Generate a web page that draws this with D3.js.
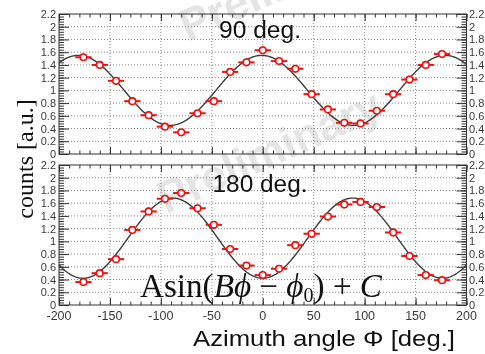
<!DOCTYPE html>
<html><head><meta charset="utf-8">
<script src="https://cdn.jsdelivr.net/npm/d3@7"></script>
<style>body{margin:0;background:#fff}svg{display:block}</style>
</head><body>
<svg id="c" width="485" height="354"></svg>
<script>
// ---- data ----
const phiCenters = [-176,-160,-144,-128,-112,-96,-80,-64,-48,-32,-16,0,16,32,48,64,80,96,112,128,144,160,176];
const binHalfWidth = 8;
const counts90 = [1.52,1.40,1.15,0.83,0.61,0.43,0.34,0.64,0.83,1.29,1.44,1.63,1.46,1.34,0.94,0.70,0.49,0.48,0.68,0.94,1.17,1.40,1.57];
const counts180 = [0.36,0.50,0.72,1.18,1.47,1.67,1.76,1.52,1.26,0.88,0.62,0.47,0.57,0.94,1.12,1.39,1.58,1.62,1.54,1.14,0.77,0.47,0.39];
const err90 = [0.06,0.06,0.06,0.06,0.05,0.05,0.05,0.05,0.06,0.06,0.06,0.06,0.06,0.06,0.06,0.05,0.05,0.05,0.05,0.06,0.06,0.06,0.06];
const err180 = [0.05,0.05,0.06,0.06,0.06,0.06,0.06,0.06,0.06,0.06,0.05,0.05,0.05,0.06,0.06,0.06,0.06,0.06,0.06,0.06,0.06,0.05,0.05];
// fit parameters [A, B, phi0(deg), C] for A*sin(B*phi - phi0) + C
const fit90 = [0.55, 2.0, -92, 1.0];
const fit180 = [0.63, 2.04, 90, 1.05];
const xTickValues = [-200,-150,-100,-50,0,50,100,150,200];
const xTickLabels = ["-200","-150","-100","-50","0","50","100","150","200"];
const yTickValues = [0,0.2,0.4,0.6,0.8,1,1.2,1.4,1.6,1.8,2,2.2];
const yTickLabels = ["0","0.2","0.4","0.6","0.8","1","1.2","1.4","1.6","1.8","2","2.2"];
const panelLabels = ["90 deg.","180 deg."];

// ---- drawing ----
const svg = d3.select("#c");
const x = d3.scaleLinear().domain([-200,200]).range([59,466.5]);
const panels = [
  {top:14, bottom:154, vals:counts90, errs:err90, fit:fit90, label:panelLabels[0], ly:38},
  {top:165, bottom:305, vals:counts180, errs:err180, fit:fit180, label:panelLabels[1], ly:192}
];
const red = "#f01010";

// watermarks (behind data)
const wm = svg.append("g").attr("fill","#c8c8c8").attr("opacity",0.5)
  .attr("font-family","Liberation Sans, Arial, sans-serif").attr("font-weight","bold").attr("font-size",44);
wm.append("text").attr("transform","translate(166,214) rotate(-24)").text("Preliminary");
wm.append("text").attr("transform","translate(188,42) rotate(-24)").text("Preliminary");

panels.forEach((p,pi)=>{
  const y = d3.scaleLinear().domain([0,2.2]).range([p.bottom,p.top]);
  const g = svg.append("g");
  // grid
  g.append("g").selectAll("line").data(xTickValues.slice(1,-1)).join("line")
    .attr("x1",d=>x(d)).attr("x2",d=>x(d)).attr("y1",p.top).attr("y2",p.bottom)
    .attr("stroke","#8a8a8a").attr("stroke-dasharray","1,2").attr("stroke-width",1);
  g.append("g").selectAll("line").data(yTickValues.slice(1,-1)).join("line")
    .attr("y1",d=>y(d)).attr("y2",d=>y(d)).attr("x1",x(-200)).attr("x2",x(200))
    .attr("stroke","#8a8a8a").attr("stroke-dasharray","1,2").attr("stroke-width",1);

  // axes with inward ticks
  const yMinor = d3.range(0,2.2001,0.04);
  const xMinor = d3.range(-200,200.001,10);
  const axL = d3.axisLeft(y).tickValues(yMinor).tickSize(-5).tickFormat("");
  const axLM = d3.axisLeft(y).tickValues(yTickValues).tickSize(-10).tickPadding(3).tickFormat((d,i)=>yTickLabels[i]);
  const axR = d3.axisRight(y).tickValues(yMinor).tickSize(-5).tickFormat("");
  const axRM = d3.axisRight(y).tickValues(yTickValues).tickSize(-10).tickPadding(2.5).tickFormat((d,i)=>yTickLabels[i]);
  const axB = d3.axisBottom(x).tickValues(xMinor).tickSize(-3.5).tickFormat("");
  const axBM = d3.axisBottom(x).tickValues(xTickValues).tickSize(-7).tickFormat("");
  const axT = d3.axisTop(x).tickValues(xMinor).tickSize(-3.5).tickFormat("");
  const axTM = d3.axisTop(x).tickValues(xTickValues).tickSize(-7).tickFormat("");
  const style = sel => {
    sel.selectAll("path").remove();
    sel.selectAll("line").attr("stroke","#333").attr("stroke-width",1);
    sel.selectAll("text").attr("fill","#3a3a3a").attr("font-family","Liberation Sans, Arial, sans-serif").attr("font-size",11);
  };
  g.append("g").attr("transform",`translate(${x(-200)},0)`).call(axL).call(style);
  g.append("g").attr("transform",`translate(${x(-200)},0)`).call(axLM).call(style);
  g.append("g").attr("transform",`translate(${x(200)},0)`).call(axR).call(style);
  g.append("g").attr("transform",`translate(${x(200)},0)`).call(axRM).call(style);
  g.append("g").attr("transform",`translate(0,${p.bottom})`).call(axB).call(style);
  g.append("g").attr("transform",`translate(0,${p.bottom})`).call(axBM).call(style);
  g.append("g").attr("transform",`translate(0,${p.top})`).call(axT).call(style);
  g.append("g").attr("transform",`translate(0,${p.top})`).call(axTM).call(style);

  // fit curve
  const [A,B,ph0,C] = p.fit;
  const phis = d3.range(-200,200.5,1);
  const line = d3.line().x(d=>x(d)).y(d=>y(A*Math.sin((B*d-ph0)*Math.PI/180)+C));
  g.append("path").datum(phis).attr("d",line).attr("fill","none").attr("stroke","#3c3c3c").attr("stroke-width",1.4);

  // data points
  const pts = g.append("g").selectAll("g").data(phiCenters.map((c,i)=>({c,v:p.vals[i],e:p.errs[i]}))).join("g");
  pts.append("line").attr("x1",d=>x(d.c-binHalfWidth)).attr("x2",d=>x(d.c+binHalfWidth))
    .attr("y1",d=>y(d.v)).attr("y2",d=>y(d.v)).attr("stroke",red).attr("stroke-width",2);
  pts.append("line").attr("x1",d=>x(d.c)).attr("x2",d=>x(d.c))
    .attr("y1",d=>y(d.v-d.e)).attr("y2",d=>y(d.v+d.e)).attr("stroke",red).attr("stroke-width",2);
  pts.append("circle").attr("cx",d=>x(d.c)).attr("cy",d=>y(d.v)).attr("r",3.3)
    .attr("fill","#fff").attr("stroke",red).attr("stroke-width",1.6);

  // frame
  g.append("rect").attr("x",x(-200)).attr("y",p.top).attr("width",x(200)-x(-200)).attr("height",p.bottom-p.top)
    .attr("fill","none").attr("stroke","#333").attr("stroke-width",1);

  // panel label
  g.append("text").attr("x",260).attr("y",p.ly).attr("text-anchor","middle")
    .attr("font-family","Liberation Sans, Arial, sans-serif").attr("font-size",23)
    .attr("textLength", pi===0?82:95).attr("lengthAdjust","spacingAndGlyphs").attr("fill","#111").text(p.label);
});

// x tick labels
svg.append("g").selectAll("text").data(xTickValues).join("text")
  .attr("x",d=>x(d)).attr("y",320).attr("text-anchor","middle")
  .attr("font-family","Liberation Sans, Arial, sans-serif").attr("font-size",12.5).attr("fill","#3a3a3a")
  .text((d,i)=>xTickLabels[i]);

// axis titles
svg.append("text").attr("x",193).attr("y",346)
  .attr("font-family","Liberation Sans, Arial, sans-serif").attr("font-size",22)
  .attr("textLength",262).attr("lengthAdjust","spacingAndGlyphs").attr("fill","#111")
  .text("Azimuth angle Φ [deg.]");
svg.append("text").attr("transform","translate(33,159) rotate(-90)").attr("text-anchor","middle")
  .attr("font-family","Liberation Serif, Times New Roman, serif").attr("font-size",24).attr("fill","#111")
  .text("counts [a.u.]");

// formula
const f = svg.append("text").attr("x",140).attr("y",297)
  .attr("font-family","Liberation Serif, Times New Roman, serif").attr("font-size",33).attr("fill","#111")
  .attr("textLength",242).attr("lengthAdjust","spacingAndGlyphs");
f.append("tspan").text("Asin(");
f.append("tspan").attr("font-style","italic").text("Bϕ");
f.append("tspan").text(" − ");
f.append("tspan").attr("font-style","italic").text("ϕ");
f.append("tspan").attr("font-size",20).attr("dy",5).text("0");
f.append("tspan").attr("dy",-5).text(") + ");
f.append("tspan").attr("font-style","italic").text("C");
</script>
</body></html>
